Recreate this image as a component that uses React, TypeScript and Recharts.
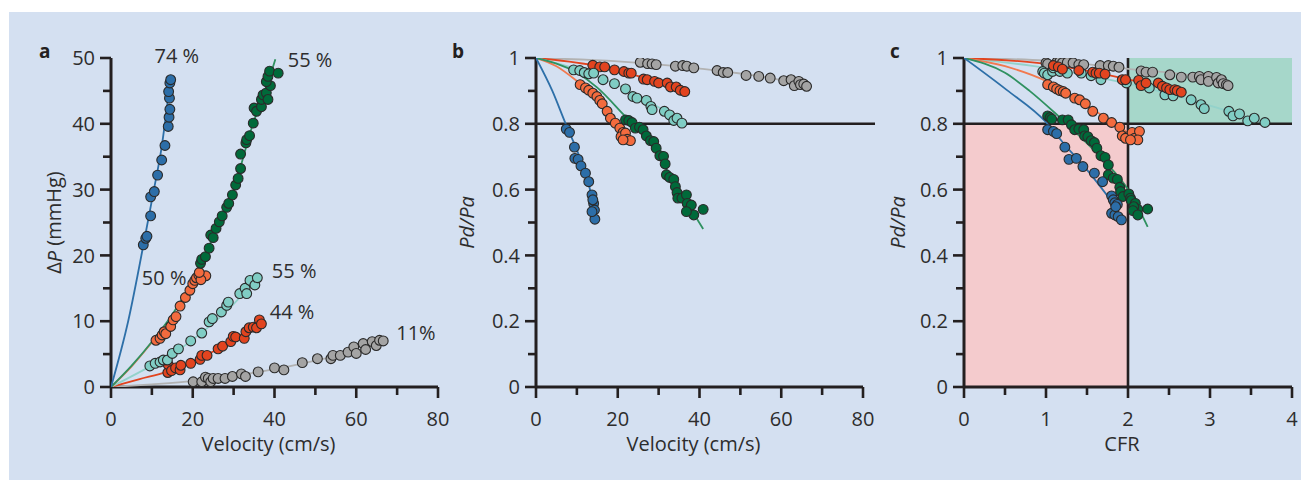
import React from 'react';
import { ScatterChart, Scatter, XAxis, YAxis, ReferenceLine, ReferenceArea, ReferenceDot } from 'recharts';

type Pt = [number, number];

// ---- panel a: velocity (cm/s) vs ΔP (mmHg)
const aBlue: Pt[] = [[7.9, 21.6], [8.5, 22.6], [8.8, 22.9], [9.7, 26.0], [9.7, 28.9], [10.6, 29.7], [11.4, 32.2], [12.4, 34.5], [13.2, 36.7], [14.0, 39.6], [14.2, 41.0], [14.4, 42.2], [14.3, 43.9], [14.1, 44.9], [14.4, 46.2], [14.6, 46.7]];
const aGreen: Pt[] = [[21.9, 18.8], [22.2, 19.4], [23.1, 19.8], [24.0, 21.1], [24.4, 23.1], [25.0, 22.7], [25.7, 24.1], [26.5, 25.1], [27.2, 26.0], [28.3, 27.3], [28.8, 27.9], [29.7, 29.2], [30.5, 30.7], [31.1, 31.7], [31.7, 33.2], [31.7, 35.4], [33.0, 37.1], [33.2, 37.6], [33.9, 38.2], [34.8, 40.1], [35.0, 42.4], [35.6, 41.9], [36.8, 42.6], [36.8, 43.7], [37.2, 44.4], [38.0, 44.7], [38.4, 43.7], [39.0, 45.8], [38.0, 46.4], [38.4, 47.2], [38.8, 48.0], [40.9, 47.7]];
const aOrange: Pt[] = [[11.0, 7.1], [12.0, 7.4], [12.5, 7.9], [13.0, 8.4], [13.4, 8.1], [14.6, 9.2], [15.2, 10.2], [15.9, 10.7], [16.9, 12.3], [18.2, 13.6], [19.3, 14.7], [20.0, 15.7], [20.5, 16.2], [20.9, 16.6], [21.5, 17.0], [22.2, 16.8], [23.2, 16.9], [22.0, 16.3], [21.6, 17.4]];
const aTeal: Pt[] = [[9.5, 3.2], [10.8, 3.6], [12.0, 3.8], [12.8, 4.1], [13.8, 4.1], [15.0, 5.1], [16.5, 5.8], [19.5, 7.0], [22.2, 8.2], [24.0, 9.9], [24.8, 10.4], [27.0, 11.4], [28.3, 12.4], [28.7, 12.9], [31.5, 14.2], [32.8, 15.0], [33.2, 14.2], [34.0, 16.2], [35.2, 15.5], [35.8, 16.6]];
const aRed: Pt[] = [[13.9, 2.2], [14.0, 3.4], [14.8, 2.5], [15.8, 2.9], [16.9, 2.6], [17.1, 3.3], [19.5, 3.6], [21.8, 4.2], [22.2, 4.8], [23.5, 4.8], [26.2, 5.8], [27.3, 6.2], [29.3, 6.9], [29.9, 7.7], [30.5, 7.6], [32.6, 7.4], [33.0, 8.4], [33.8, 9.0], [34.8, 9.1], [35.6, 9.0], [36.3, 10.2], [36.8, 9.6]];
const aGray: Pt[] = [[20.1, 0.8], [22.2, 0.8], [23.1, 1.5], [23.8, 1.3], [24.4, 0.8], [25.0, 1.3], [26.2, 1.3], [27.9, 1.3], [29.7, 1.6], [31.9, 2.0], [32.9, 1.6], [36.0, 2.3], [40.0, 2.9], [42.3, 2.6], [46.8, 3.7], [50.5, 4.3], [53.8, 4.3], [54.3, 4.8], [56.1, 4.8], [58.0, 5.3], [59.4, 6.1], [60.0, 5.1], [61.7, 6.6], [62.3, 5.7], [63.9, 6.9], [64.9, 6.3], [65.7, 7.1], [66.6, 7.0]];
const aBlueFit: Pt[] = [[0, 0], [4.2, 10], [8.3, 22.8], [10.5, 30], [12.4, 36.5], [14.5, 46.7]];
const aGreenFit: Pt[] = [[0, 0], [5, 3.2], [10.3, 7.1], [15, 11], [20, 16.2], [25, 22.8], [30, 30], [35, 40.5], [38, 45.5], [40.2, 49.8]];
const aOrangeFit: Pt[] = [[0, 0], [5, 3.1], [10.3, 7], [15, 10.4], [20, 15], [22.5, 17.8]];
const aTealFit: Pt[] = [[0, 0], [9.5, 3.1], [15, 5], [20, 7.2], [25, 9.7], [30, 12.6], [36, 16.8]];
const aRedFit: Pt[] = [[0, 0], [7, 1.2], [13.6, 2.3], [20, 3.9], [25, 5.4], [30, 7.2], [36.5, 10]];
const aGrayFit: Pt[] = [[0, 0], [10, 0.4], [20, 0.9], [30, 1.7], [40, 2.7], [50, 4.0], [60, 5.5], [66.5, 7.0]];
const aNotes: { x: number; y: number; t: string }[] = [
  { x: 16.1, y: 50.3, t: '74 %' },
  { x: 48.7, y: 49.8, t: '55 %' },
  { x: 13.0, y: 16.6, t: '50 %' },
  { x: 44.8, y: 17.6, t: '55 %' },
  { x: 44.3, y: 11.5, t: '44 %' },
  { x: 74.6, y: 8.2, t: '11%' },
];

// ---- panel b: velocity (cm/s) vs Pd/Pa
const bBlue: Pt[] = [[7.4, 0.784], [8.2, 0.774], [9.4, 0.729], [9.5, 0.695], [10.3, 0.692], [11.0, 0.672], [12.1, 0.65], [12.9, 0.624], [13.7, 0.584], [14.1, 0.558], [14.3, 0.538], [14.4, 0.51], [13.7, 0.533], [13.9, 0.569]];
const bGreen: Pt[] = [[21.9, 0.812], [22.7, 0.81], [23.5, 0.804], [24.3, 0.787], [25.3, 0.79], [26.2, 0.782], [27.0, 0.763], [28.0, 0.749], [28.8, 0.746], [29.4, 0.726], [30.3, 0.703], [31.2, 0.701], [31.6, 0.678], [31.9, 0.645], [32.7, 0.637], [33.7, 0.631], [34.1, 0.609], [34.5, 0.591], [34.7, 0.574], [35.7, 0.574], [36.8, 0.584], [37.0, 0.558], [37.4, 0.538], [38.0, 0.553], [38.6, 0.523], [36.8, 0.533], [40.9, 0.54]];
const bOrange: Pt[] = [[10.8, 0.919], [12.1, 0.909], [12.9, 0.902], [13.9, 0.893], [14.9, 0.883], [15.6, 0.871], [16.2, 0.861], [17.4, 0.838], [18.2, 0.817], [19.4, 0.802], [20.5, 0.787], [21.3, 0.774], [20.8, 0.761], [21.9, 0.772], [22.3, 0.753], [23.1, 0.749], [21.3, 0.751]];
const bTeal: Pt[] = [[9.2, 0.964], [10.7, 0.962], [11.8, 0.956], [12.9, 0.952], [14.1, 0.954], [16.4, 0.934], [19.2, 0.922], [21.9, 0.906], [23.7, 0.883], [24.7, 0.878], [27.0, 0.871], [28.1, 0.853], [28.4, 0.843], [31.4, 0.838], [32.7, 0.827], [33.7, 0.81], [34.5, 0.817], [35.7, 0.802]];
const bRed: Pt[] = [[13.9, 0.978], [15.6, 0.973], [16.8, 0.973], [19.2, 0.964], [21.5, 0.959], [22.7, 0.954], [23.3, 0.954], [26.3, 0.936], [27.2, 0.934], [29.0, 0.929], [30.0, 0.924], [32.1, 0.924], [32.9, 0.912], [34.3, 0.912], [35.3, 0.902], [36.4, 0.898]];
const bGray: Pt[] = [[25.5, 0.987], [27.3, 0.983], [28.4, 0.982], [29.4, 0.98], [34.1, 0.975], [35.9, 0.977], [36.9, 0.975], [38.6, 0.97], [44.3, 0.962], [45.8, 0.956], [46.9, 0.956], [51.4, 0.947], [54.5, 0.944], [57.3, 0.939], [60.6, 0.931], [62.4, 0.934], [63.2, 0.916], [64.3, 0.929], [64.7, 0.919], [65.5, 0.921], [66.2, 0.914]];
const bBlueFit: Pt[] = [[0, 1], [4, 0.9], [7.2, 0.802], [10, 0.72], [12.5, 0.635], [14.5, 0.528]];
const bGreenFit: Pt[] = [[0, 1], [10, 0.955], [15, 0.91], [21.5, 0.827], [27, 0.755], [33, 0.64], [40.9, 0.48]];
const bOrangeFit: Pt[] = [[0, 1], [5, 0.975], [10, 0.93], [15, 0.877], [20, 0.805], [23.5, 0.74]];
const bTealFit: Pt[] = [[0, 1], [10, 0.966], [20, 0.917], [30, 0.85], [36, 0.8]];
const bRedFit: Pt[] = [[0, 1], [14, 0.978], [25, 0.945], [36.5, 0.898]];
const bGrayFit: Pt[] = [[0, 1], [20, 0.99], [40, 0.968], [60, 0.933], [66.5, 0.915]];

// ---- panel c: CFR vs Pd/Pa
const cBlue: Pt[] = [[1.02, 0.782], [1.09, 0.777], [1.13, 0.77], [1.23, 0.729], [1.28, 0.692], [1.37, 0.695], [1.45, 0.67], [1.59, 0.65], [1.69, 0.624], [1.8, 0.581], [1.82, 0.569], [1.84, 0.56], [1.87, 0.555], [1.8, 0.528], [1.84, 0.523], [1.88, 0.518], [1.92, 0.508], [1.85, 0.548]];
const cGreen: Pt[] = [[1.02, 0.824], [1.05, 0.819], [1.07, 0.814], [1.2, 0.812], [1.27, 0.812], [1.31, 0.797], [1.35, 0.782], [1.4, 0.784], [1.46, 0.782], [1.47, 0.763], [1.51, 0.761], [1.55, 0.749], [1.59, 0.743], [1.62, 0.726], [1.67, 0.703], [1.72, 0.698], [1.76, 0.675], [1.76, 0.645], [1.82, 0.635], [1.87, 0.631], [1.9, 0.607], [1.91, 0.594], [1.94, 0.579], [2.01, 0.587], [2.03, 0.574], [2.04, 0.567], [2.09, 0.558], [2.12, 0.54], [2.07, 0.548], [2.06, 0.536], [2.12, 0.523], [2.24, 0.541]];
const cOrange: Pt[] = [[1.02, 0.919], [1.09, 0.912], [1.13, 0.906], [1.17, 0.901], [1.21, 0.898], [1.24, 0.893], [1.35, 0.878], [1.41, 0.873], [1.48, 0.861], [1.57, 0.838], [1.7, 0.817], [1.8, 0.804], [1.9, 0.79], [1.93, 0.763], [2.0, 0.761], [1.97, 0.756], [2.05, 0.774], [2.08, 0.756], [2.14, 0.777], [2.12, 0.751], [2.03, 0.751]];
const cTeal: Pt[] = [[0.96, 0.959], [0.98, 0.954], [1.02, 0.949], [1.08, 0.959], [1.09, 0.97], [1.17, 0.959], [1.26, 0.954], [1.43, 0.954], [1.55, 0.946], [1.67, 0.934], [1.98, 0.924], [2.26, 0.909], [2.45, 0.888], [2.55, 0.885], [2.77, 0.873], [2.89, 0.858], [2.93, 0.846], [3.23, 0.838], [3.28, 0.824], [3.36, 0.83], [3.46, 0.809], [3.54, 0.817], [3.67, 0.804]];
const cRed: Pt[] = [[1.09, 0.977], [1.15, 0.973], [1.2, 0.966], [1.4, 0.962], [1.57, 0.957], [1.61, 0.954], [1.65, 0.954], [1.72, 0.951], [1.93, 0.934], [1.97, 0.934], [2.13, 0.932], [2.16, 0.916], [2.22, 0.924], [2.37, 0.924], [2.42, 0.914], [2.47, 0.909], [2.51, 0.904], [2.57, 0.904], [2.6, 0.901], [2.65, 0.896]];
const cGray: Pt[] = [[1.0, 0.985], [1.02, 0.982], [1.13, 0.987], [1.17, 0.99], [1.2, 0.985], [1.26, 0.987], [1.33, 0.985], [1.4, 0.98], [1.46, 0.98], [1.66, 0.977], [1.76, 0.977], [1.82, 0.975], [1.89, 0.972], [2.16, 0.961], [2.22, 0.957], [2.3, 0.957], [2.51, 0.949], [2.65, 0.942], [2.79, 0.942], [2.87, 0.944], [2.89, 0.934], [2.98, 0.944], [2.98, 0.929], [3.08, 0.941], [3.1, 0.924], [3.14, 0.934], [3.16, 0.922], [3.2, 0.919], [3.22, 0.916]];
const cBlueFit: Pt[] = [[0, 1], [0.52, 0.903], [1.0, 0.805], [1.23, 0.736], [1.5, 0.66], [1.82, 0.558]];
const cGreenFit: Pt[] = [[0, 1], [0.5, 0.955], [0.8, 0.9], [1.1, 0.835], [1.4, 0.765], [1.7, 0.69], [2.0, 0.6], [2.24, 0.487]];
const cOrangeFit: Pt[] = [[0, 1], [0.5, 0.975], [1, 0.93], [1.5, 0.855], [1.9, 0.79], [2.15, 0.745]];
const cTealFit: Pt[] = [[0, 1], [1, 0.97], [2, 0.922], [3, 0.855], [3.7, 0.8]];
const cRedFit: Pt[] = [[0, 1], [1, 0.982], [2, 0.935], [2.65, 0.896]];
const cGrayFit: Pt[] = [[0, 1], [1, 0.992], [2, 0.967], [3, 0.937], [3.25, 0.915]];

const velTicks = [0, 10, 20, 30, 40, 50, 60, 70, 80];
const velMajor = [0, 20, 40, 60, 80];
const dpTicks = [0, 5, 10, 15, 20, 25, 30, 35, 40, 45, 50];
const dpMajor = [0, 10, 20, 30, 40, 50];
const ratioTicks = [0, 0.1, 0.2, 0.3, 0.4, 0.5, 0.6, 0.7, 0.8, 0.9, 1];
const ratioMajor = [0, 0.2, 0.4, 0.6, 0.8, 1];
const cfrTicks = [0, 0.5, 1, 1.5, 2, 2.5, 3, 3.5, 4];
const cfrMajor = [0, 1, 2, 3, 4];

const INK = '#231f20';
const TXT = '#2d2d2d';
const FONT = "'Open Sans', sans-serif";
const FS = 20;
const BG = '#d4e0f1';

const FILL = { blue: '#2c6ea8', green: '#006a3a', orange: '#f36b3e', red: '#e2441f', teal: '#80cdc4', gray: '#a4a4a4' };
const LINE = { blue: '#2d6fa8', green: '#2f9160', orange: '#f2794f', red: '#e2441f', teal: '#93d2cb', gray: '#b2b2b2' };
type Key = keyof typeof FILL;

const toObj = (pts: Pt[]) => pts.map(([x, y]) => ({ x, y }));
const isMajor = (list: number[], v: number) => list.some((m) => Math.abs(m - v) < 1e-9);

const AxisTick = (props: any) => {
  const { x, y, payload, side, major } = props;
  const v = payload.value;
  const big = isMajor(major, v);
  const len = big ? 11 : 8;
  const label = String(v);
  if (side === 'y') {
    return (
      <g>
        <line x1={x - len} x2={x} y1={y} y2={y} stroke={INK} strokeWidth={2.6} />
        {big && (
          <text x={x - 16} y={y + 7.2} textAnchor="end" fontSize={FS} fill={TXT} fontFamily={FONT}>
            {label}
          </text>
        )}
      </g>
    );
  }
  return (
    <g>
      <line x1={x} x2={x} y1={y} y2={y + len} stroke={INK} strokeWidth={2.6} />
      {big && (
        <text x={x} y={y + 39} textAnchor="middle" fontSize={FS} fill={TXT} fontFamily={FONT}>
          {label}
        </text>
      )}
    </g>
  );
};

const YTitle = (props: any) => {
  const { viewBox, dx, children } = props;
  const cx = viewBox.x + viewBox.width / 2 + dx;
  const cy = viewBox.y + viewBox.height / 2;
  return (
    <text x={cx} y={cy} transform={`rotate(-90 ${cx} ${cy})`} textAnchor="middle" dominantBaseline="central" fontSize={FS} fill={TXT} fontFamily={FONT}>
      {children}
    </text>
  );
};

const XTitle = (props: any) => {
  const { viewBox, text } = props;
  const cx = viewBox.x + viewBox.width / 2 - 6;
  return (
    <text x={cx} y={viewBox.y + 64} textAnchor="middle" fontSize={FS} fill={TXT} fontFamily={FONT}>
      {text}
    </text>
  );
};

const dotShape = (fill: string) => (p: any) => (
  <circle cx={p.cx} cy={p.cy} r={4.9} fill={fill} stroke="#2a2a2a" strokeWidth={1.1} />
);
const noShape = () => <g />;

type Series = { key: Key; pts: Pt[]; fit: Pt[] };

interface PanelProps {
  left: number;
  width: number;
  right: number;
  yAxisWidth: number;
  xDomain: [number, number];
  yDomain: [number, number];
  xTicks: number[];
  xMajor: number[];
  yTicks: number[];
  yMajor: number[];
  xTitle: string;
  yTitle: React.ReactNode;
  yTitleDx: number;
  series: Series[];
  children?: React.ReactNode;
  notes?: React.ReactNode;
}

const Panel = (p: PanelProps) => (
  <div style={{ position: 'absolute', left: p.left, top: 4 }}>
    <ScatterChart width={p.width} height={460} margin={{ top: 46, right: p.right, bottom: 25, left: 0 }}>
      <XAxis
        type="number"
        dataKey="x"
        domain={p.xDomain}
        ticks={p.xTicks}
        interval={0}
        allowDataOverflow
        height={60}
        tickSize={0}
        tickMargin={0}
        axisLine={{ stroke: INK, strokeWidth: 3 }}
        tick={<AxisTick side="x" major={p.xMajor} />}
        label={<XTitle text={p.xTitle} />}
      />
      <YAxis
        type="number"
        dataKey="y"
        domain={p.yDomain}
        ticks={p.yTicks}
        interval={0}
        allowDataOverflow
        width={p.yAxisWidth}
        tickSize={0}
        tickMargin={0}
        axisLine={{ stroke: INK, strokeWidth: 3 }}
        tick={<AxisTick side="y" major={p.yMajor} />}
        label={<YTitle dx={p.yTitleDx}>{p.yTitle}</YTitle>}
      />
      {p.children}
      {p.series.map((s) => (
        <Scatter
          key={`fit-${s.key}`}
          data={toObj(s.fit)}
          fill="none"
          line={{ stroke: LINE[s.key], strokeWidth: 1.8 }}
          lineJointType="monotoneX"
          shape={noShape}
          legendType="none"
          isAnimationActive={false}
        />
      ))}
      {p.series.map((s) => (
        <Scatter
          key={`pts-${s.key}`}
          data={toObj(s.pts)}
          fill={FILL[s.key]}
          shape={dotShape(FILL[s.key])}
          legendType="none"
          isAnimationActive={false}
        />
      ))}
      {p.notes}
    </ScatterChart>
  </div>
);

const App = () => {
  const aSeries: Series[] = [
    { key: 'gray', pts: aGray, fit: aGrayFit },
    { key: 'red', pts: aRed, fit: aRedFit },
    { key: 'teal', pts: aTeal, fit: aTealFit },
    { key: 'orange', pts: aOrange, fit: aOrangeFit },
    { key: 'green', pts: aGreen, fit: aGreenFit },
    { key: 'blue', pts: aBlue, fit: aBlueFit },
  ];
  const bSeries: Series[] = [
    { key: 'gray', pts: bGray, fit: bGrayFit },
    { key: 'red', pts: bRed, fit: bRedFit },
    { key: 'teal', pts: bTeal, fit: bTealFit },
    { key: 'orange', pts: bOrange, fit: bOrangeFit },
    { key: 'green', pts: bGreen, fit: bGreenFit },
    { key: 'blue', pts: bBlue, fit: bBlueFit },
  ];
  const cSeries: Series[] = [
    { key: 'gray', pts: cGray, fit: cGrayFit },
    { key: 'teal', pts: cTeal, fit: cTealFit },
    { key: 'red', pts: cRed, fit: cRedFit },
    { key: 'orange', pts: cOrange, fit: cOrangeFit },
    { key: 'green', pts: cGreen, fit: cGreenFit },
    { key: 'blue', pts: cBlue, fit: cBlueFit },
  ];

  const aLabels = aNotes.map((n, i) => (
    <ReferenceDot
      key={`n${i}`}
      x={n.x}
      y={n.y}
      ifOverflow="visible"
      shape={(d: any) => (
        <text x={d.cx} y={d.cy + 7.2} textAnchor="middle" fontSize={FS} fill={TXT} fontFamily={FONT}>
          {n.t}
        </text>
      )}
    />
  ));

  const ratioTitle = <tspan fontStyle="italic">Pd/Pa</tspan>;

  return (
    <div style={{ position: 'relative', width: 1301, height: 472, fontFamily: FONT }}>
      <div style={{ position: 'absolute', left: 1, top: 4, width: 1300, height: 468, background: BG }} />
      <Panel
        left={2}
        width={440}
        right={12}
        yAxisWidth={101}
        xDomain={[0, 80]}
        yDomain={[0, 50]}
        xTicks={velTicks}
        xMajor={velMajor}
        yTicks={dpTicks}
        yMajor={dpMajor}
        xTitle="Velocity (cm/s)"
        yTitle={<>Δ<tspan fontStyle="italic">P</tspan> (mmHg)</>}
        yTitleDx={-7}
        series={aSeries}
        notes={aLabels}
      />
      <Panel
        left={437}
        width={430}
        right={12}
        yAxisWidth={91}
        xDomain={[0, 80]}
        yDomain={[0, 1]}
        xTicks={velTicks}
        xMajor={velMajor}
        yTicks={ratioTicks}
        yMajor={ratioMajor}
        xTitle="Velocity (cm/s)"
        yTitle={ratioTitle}
        yTitleDx={-25}
        series={bSeries}
      >
        <ReferenceLine segment={[{ x: 0, y: 0.8 }, { x: 83, y: 0.8 }]} stroke={INK} strokeWidth={2.6} ifOverflow="visible" />
      </Panel>
      <Panel
        left={872}
        width={425}
        right={13}
        yAxisWidth={84}
        xDomain={[0, 4]}
        yDomain={[0, 1]}
        xTicks={cfrTicks}
        xMajor={cfrMajor}
        yTicks={ratioTicks}
        yMajor={ratioMajor}
        xTitle="CFR"
        yTitle={ratioTitle}
        yTitleDx={-25}
        series={cSeries}
      >
        <ReferenceArea x1={0} x2={2} y1={0} y2={0.8} fill="#f4cbcd" fillOpacity={1} stroke="none" />
        <ReferenceArea x1={2} x2={4} y1={0.8} y2={1} fill="#a6d7ca" fillOpacity={1} stroke="none" />
        <ReferenceLine y={0.8} stroke={INK} strokeWidth={2.6} />
        <ReferenceLine x={2} stroke={INK} strokeWidth={2.6} />
      </Panel>
      <svg width={1301} height={472} style={{ position: 'absolute', left: 0, top: 0, pointerEvents: 'none' }}>
        <text x={31} y={50} fontSize={19} fontWeight="bold" fill={INK} fontFamily={FONT}>a</text>
        <text x={444} y={50} fontSize={19} fontWeight="bold" fill={INK} fontFamily={FONT}>b</text>
        <text x={882} y={50} fontSize={19} fontWeight="bold" fill={INK} fontFamily={FONT}>c</text>
      </svg>
    </div>
  );
};

export default App;
